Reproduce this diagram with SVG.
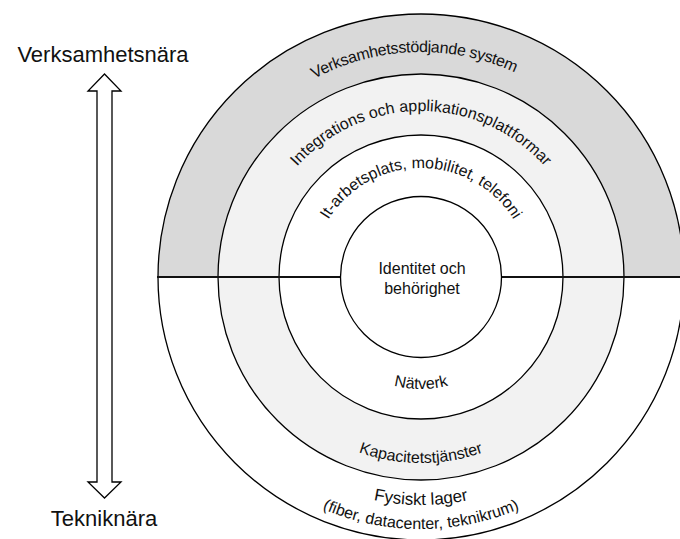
<svg xmlns="http://www.w3.org/2000/svg" xmlns:xlink="http://www.w3.org/1999/xlink" width="680" height="539" viewBox="0 0 680 539">
  <style>
    .ring { stroke: #000; stroke-width: 1.3; }
    .lbl { font-family: "Liberation Sans", Arial, sans-serif; font-size: 16px; fill: #111; }
    .big { font-family: "Liberation Sans", Arial, sans-serif; font-size: 22px; fill: #111; }
    .div { stroke: #111; stroke-width: 2; fill: none; }
  </style>
  <defs>
    <path id="pTop1" d="M196 277 A225 225 0 0 1 646 277"/>
    <path id="pTop2" d="M255 277 A166 166 0 0 1 587 277"/>
    <path id="pTop3" d="M312 277 A109 109 0 0 1 530 277"/>
    <path id="pBot3" d="M309 277 A112 112 0 0 0 533 277"/>
    <path id="pBot2" d="M235 277 A186 186 0 0 0 607 277"/>
    <path id="pBot1a" d="M193 277 A228 228 0 0 0 649 277"/>
    <path id="pBot1b" d="M169 277 A252 252 0 0 0 673 277"/>
  </defs>
  <rect width="680" height="539" fill="#fff"/>

  <g id="ring-outer">
    <path class="ring" d="M158 277 A263 263 0 0 1 684 277 Z" fill="#d9d9d9"/>
    <path class="ring" d="M158 277 A263 263 0 0 0 684 277 Z" fill="#fff"/>
    <text class="lbl"><textPath xlink:href="#pTop1" href="#pTop1" startOffset="49%" text-anchor="middle" textLength="208" lengthAdjust="spacing">Verksamhetsstödjande system</textPath></text>
    <text class="lbl" style="font-size:17px"><textPath xlink:href="#pBot1a" href="#pBot1a" startOffset="50%" text-anchor="middle">Fysiskt lager</textPath></text>
    <text class="lbl"><textPath xlink:href="#pBot1b" href="#pBot1b" startOffset="50%" text-anchor="middle">(fiber, datacenter, teknikrum)</textPath></text>
  </g>

  <g id="ring-integration">
    <circle class="ring" cx="421" cy="277" r="203" fill="#f2f2f2"/>
    <text class="lbl"><textPath xlink:href="#pTop2" href="#pTop2" startOffset="50%" text-anchor="middle">Integrations och applikationsplattformar</textPath></text>
    <text class="lbl"><textPath xlink:href="#pBot2" href="#pBot2" startOffset="50%" text-anchor="middle">Kapacitetstjänster</textPath></text>
  </g>

  <g id="ring-workplace">
    <circle class="ring" cx="421" cy="277" r="142" fill="#fff"/>
    <text class="lbl"><textPath xlink:href="#pTop3" href="#pTop3" startOffset="50%" text-anchor="middle">It-arbetsplats, mobilitet, telefoni</textPath></text>
    <text class="lbl"><textPath xlink:href="#pBot3" href="#pBot3" startOffset="50%" text-anchor="middle">Nätverk</textPath></text>
  </g>

  <g id="divider">
    <line class="div" x1="157" y1="277" x2="341" y2="277"/>
    <line class="div" x1="502" y1="277" x2="680" y2="277"/>
  </g>

  <g id="core">
    <circle class="ring" cx="421" cy="277" r="80.5" fill="#fff"/>
    <text class="lbl" x="422" y="274" text-anchor="middle">Identitet och</text>
    <text class="lbl" x="422" y="294" text-anchor="middle">behörighet</text>
  </g>

  <g id="label-top">
    <text class="big" x="103" y="62" text-anchor="middle">Verksamhetsnära</text>
  </g>
  <g id="label-bottom">
    <text class="big" x="104" y="526" text-anchor="middle">Tekniknära</text>
  </g>

  <g id="connectors">
    <polygon points="104.5,74 88,91 97,91 97,482 88,482 104.5,498 121,482 112,482 112,91 121,91" fill="#fff" stroke="#000" stroke-width="1.3" stroke-linejoin="miter"/>
  </g>
</svg>
